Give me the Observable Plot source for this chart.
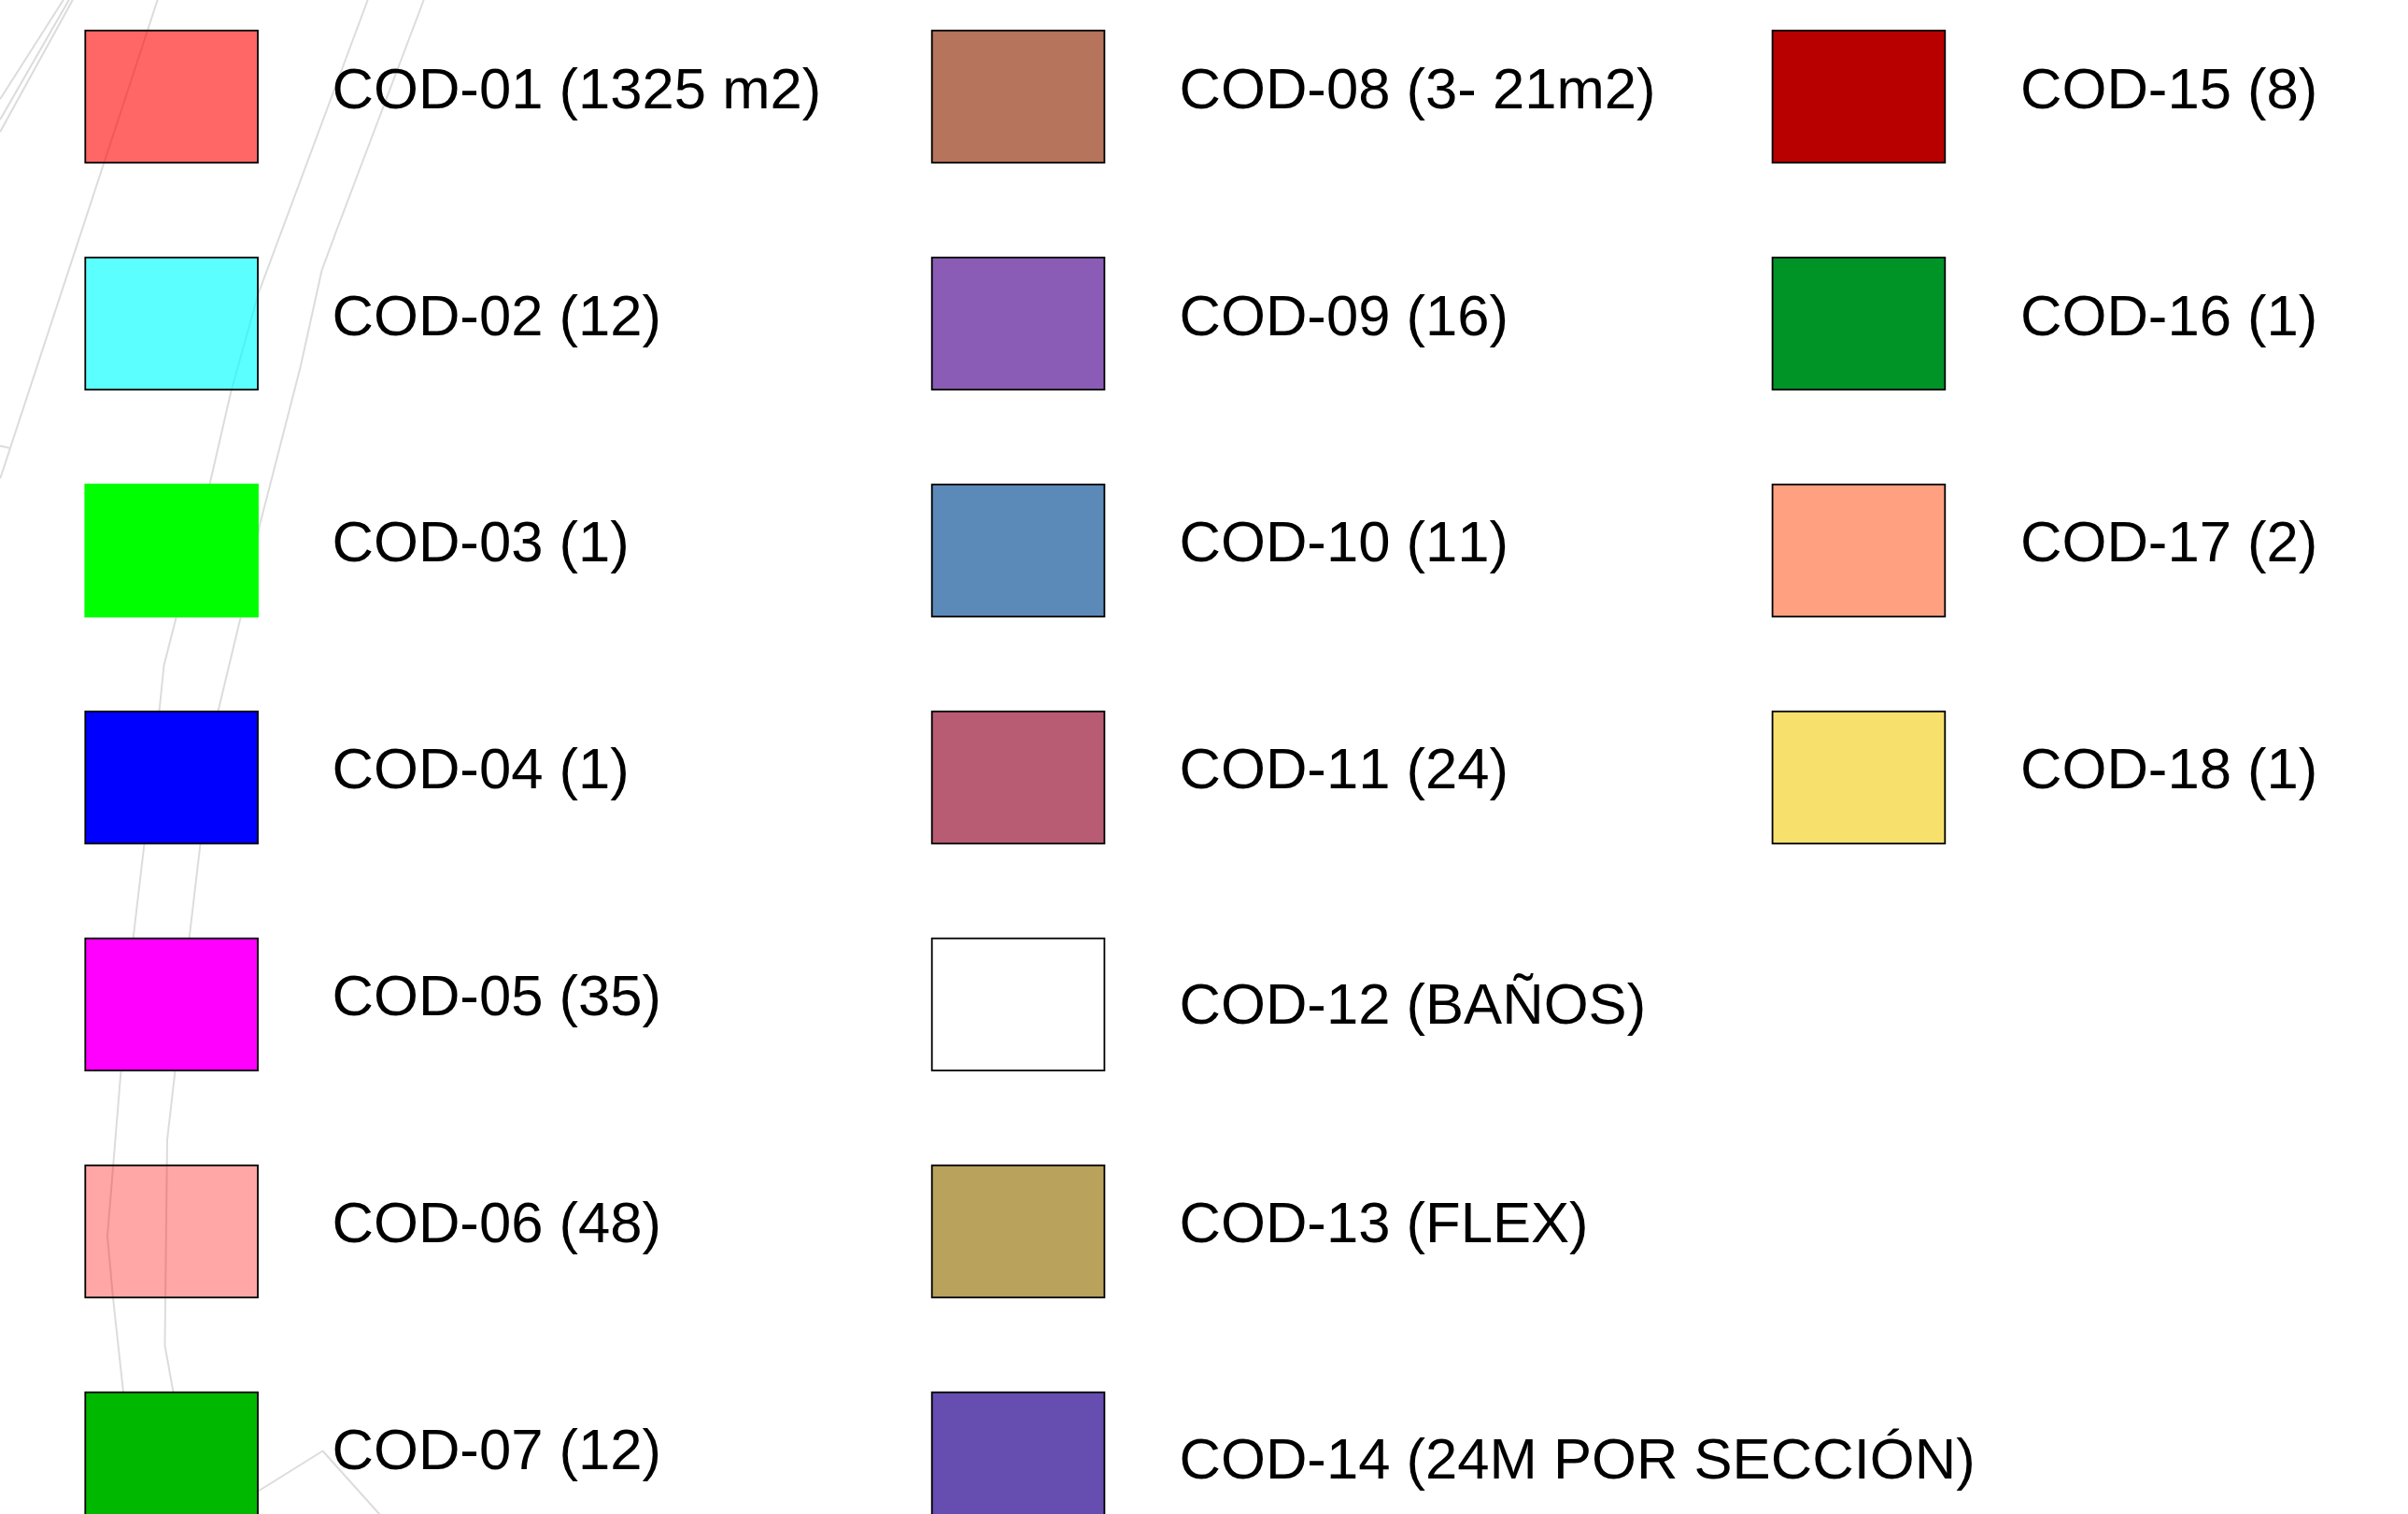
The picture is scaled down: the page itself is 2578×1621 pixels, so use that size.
<!DOCTYPE html>
<html>
<head>
<meta charset="utf-8">
<style>
html,body{margin:0;padding:0;background:#fff;overflow:hidden}
svg{display:block}
</style>
<script src="https://cdn.jsdelivr.net/npm/d3@7"></script>
<script src="https://cdn.jsdelivr.net/npm/@observablehq/plot@0.6"></script>
</head>
<body>
<div id="chart"></div>
<script>
// Legend entries
const labels = [
  "COD-01 (1325 m2)","COD-02 (12)","COD-03 (1)","COD-04 (1)","COD-05 (35)","COD-06 (48)","COD-07 (12)",
  "COD-08 (3- 21m2)","COD-09 (16)","COD-10 (11)","COD-11 (24)","COD-12 (BAÑOS)","COD-13 (FLEX)","COD-14 (24M POR SECCIÓN)",
  "COD-15 (8)","COD-16 (1)","COD-17 (2)","COD-18 (1)"
];
const fills = [
  "#ff0000","#00ffff","#00ff00","#0000ff","#ff00ff","#ff0000","#00b800",
  "#b5745b","#8a5cb5","#5c8ab8","#b85c73","#ffffff","#b8a25c","#664db0",
  "#b80000","#009426","#ffa080","#f8e06c"
];
const fillAlpha = [.6,.64,1,1,1,.35,1, 1,1,1,1,1,1,1, 1,1,1,1];
const outlines = [
  "#000","#000","#00ff00","#000","#000","#000","#000",
  "#000","#000","#000","#000","#000","#000","#000",
  "#000","#000","#000","#000"
];
const columns = [0,0,0,0,0,0,0, 1,1,1,1,1,1,1, 2,2,2,2];
const rows    = [0,1,2,3,4,5,6, 0,1,2,3,4,5,6, 0,1,2,3];
const baselines = [
  115,358,600,843,1086,1329,1572,
  115,358,600,843,1095,1329,1582,
  115,358,600,843
];

// Faint background linework
const lineA = [[168,0],[0,511]];
const lineB = [[393,0],[276,314],[247,418],[224,518],[188,661],[175,712],[170,761],[154,903],[142,1005],[129,1146],[114.5,1323],[120.5,1389],[131.5,1490]];
const lineC = [[453,0],[361,243],[344,289],[321,393],[278,560],[257,661],[233,761],[214,903],[202,1005],[187,1146],[178.5,1220],[176,1440],[185,1490]];
const lineD = [[67,0],[0,105]];
const lineE = [[73,0],[0,127]];
const lineF = [[77,0],[0,140]];
const lineG = [[0,477],[9,479]];
const lineH = [[276,1596],[345,1553],[406,1621]];
const paths = [lineA,lineB,lineC,lineD,lineE,lineF,lineG,lineH];

// Layout
const W = 2578, H = 1621;
const swatchLeft = [91.3,997.7,1897.6], swatchW = 184.7, swatchH = 141.5;
const rowTop = [32.7,275.7,518.7,761.7,1004.7,1247.7,1490.7];
const textLeft = [355,1262,2162.5];

const entries = labels.map((label,i)=>({
  label, fill:fills[i], alpha:fillAlpha[i], outline:outlines[i],
  x1:swatchLeft[columns[i]], x2:swatchLeft[columns[i]]+swatchW,
  y1:rowTop[rows[i]], y2:rowTop[rows[i]]+swatchH,
  tx:textLeft[columns[i]], ty:baselines[i]
}));
const segs = paths.flatMap((p,id)=>p.map(([x,y])=>({id,x,y})));

const chart = Plot.plot({
  width:W, height:H, margin:0,
  x:{domain:[0,W], range:[0,W], axis:null},
  y:{domain:[0,H], range:[0,H], axis:null},
  style:{background:"#fff", maxWidth:"none", fontKerning:"none"},
  marks:[
    Plot.line(segs,{x:"x",y:"y",z:"id",stroke:"#dcdcdc",strokeWidth:2,curve:"linear"}),
    Plot.rect(entries,{x1:"x1",x2:"x2",y1:"y1",y2:"y2",fill:d=>d.fill,fillOpacity:d=>d.alpha,stroke:d=>d.outline,strokeWidth:1.8,clip:true}),
    Plot.text(entries,{x:"tx",y:"ty",text:"label",textAnchor:"start",lineAnchor:"bottom",fill:"#000",fontSize:61.6,fontFamily:"Liberation Sans"})
  ]
});
document.getElementById("chart").append(chart);
</script>
</body>
</html>
